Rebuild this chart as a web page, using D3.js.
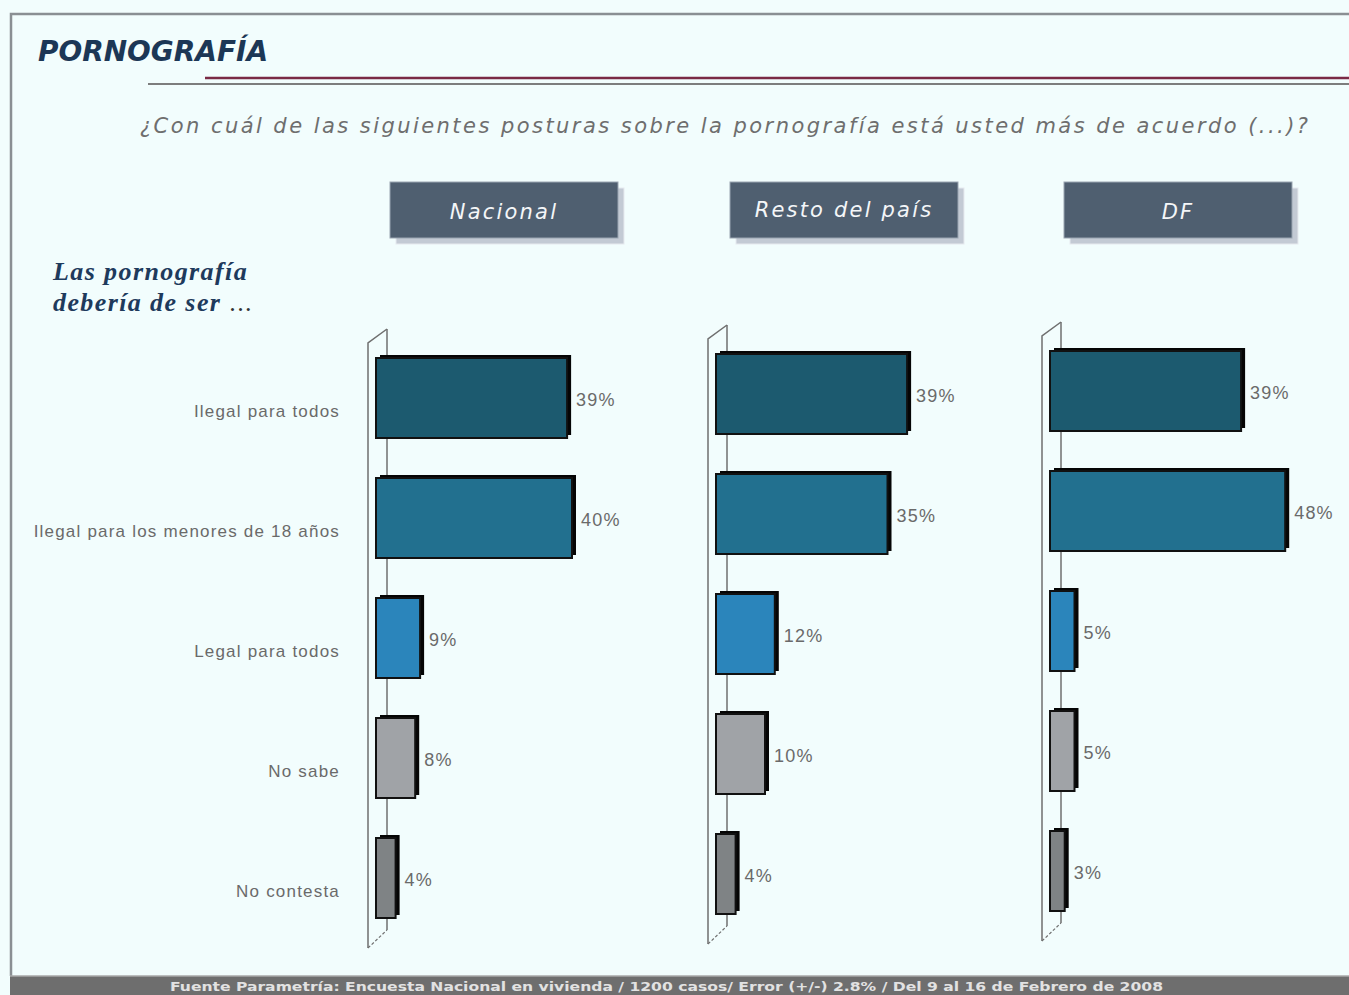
<!DOCTYPE html>
<html>
<head>
<meta charset="utf-8">
<script src="https://cdn.jsdelivr.net/npm/d3@7"></script>
<style>
  body { margin: 0; background: #f2fdfd; overflow: hidden; }
  svg { display: block; }
</style>
</head>
<body>
<svg id="chart" width="1349" height="995"></svg>
<script>
// datos
const categorias = ["Ilegal para todos", "Ilegal para los menores de 18 años", "Legal para todos", "No sabe", "No contesta"];
const regiones = ["Nacional", "Resto del país", "DF"];
const nacional = [39, 40, 9, 8, 4];
const restoPais = [39, 35, 12, 10, 4];
const df = [39, 48, 5, 5, 3];
const colores = ["#1c5a6f", "#22708f", "#2b85bb", "#a0a3a7", "#7f8385"];

const series = [nacional, restoPais, df];

const svg = d3.select("#chart");
const W = 1349, H = 995;

svg.append("rect").attr("width", W).attr("height", H).attr("fill", "#f2fdfd");

// marco
svg.append("path")
  .attr("d", "M11,976 L11,14 L1349,14")
  .attr("fill", "none")
  .attr("stroke", "#8a8f93")
  .attr("stroke-width", 2.5);

// titulo
svg.append("text")
  .attr("x", 38).attr("y", 61)
  .attr("font-family", "DejaVu Sans Condensed, DejaVu Sans")
  .attr("font-style", "italic")
  .attr("font-weight", "bold")
  .attr("font-size", 29)
  .attr("fill", "#1c3756")
  .attr("textLength", 230)
  .attr("lengthAdjust", "spacingAndGlyphs")
  .text("PORNOGRAFÍA");

svg.append("line")
  .attr("x1", 148).attr("x2", W).attr("y1", 84).attr("y2", 84)
  .attr("stroke", "#7d7d7d").attr("stroke-width", 2);
svg.append("line")
  .attr("x1", 205).attr("x2", W).attr("y1", 78).attr("y2", 78)
  .attr("stroke", "#7a2a45").attr("stroke-width", 2.5);

// pregunta
svg.append("text")
  .attr("x", 140).attr("y", 133)
  .attr("font-family", "DejaVu Sans")
  .attr("font-style", "italic")
  .attr("font-size", 21)
  .attr("fill", "#6e6e6e")
  .attr("textLength", 1168)
  .attr("lengthAdjust", "spacing")
  .text("¿Con cuál de las siguientes posturas sobre la pornografía está usted más de acuerdo (...)?");

// "Las pornografía debería de ser ..."
const enc = svg.append("g")
  .attr("font-family", "Liberation Serif")
  .attr("font-style", "italic")
  .attr("font-weight", "bold")
  .attr("font-size", 26)
  .attr("letter-spacing", 1.4)
  .attr("fill", "#1e3a5c");
enc.append("text").attr("x", 53).attr("y", 280)
  .text("Las pornografía");
const l2 = enc.append("text").attr("x", 53).attr("y", 311);
l2.append("tspan").text("debería de ser ");
l2.append("tspan").attr("font-weight", "normal").attr("font-style", "normal").attr("fill", "#333").text("...");

// paneles
const x0s = [376, 716, 1050];
const dys = [0, -4, -7];

const x = d3.scaleLinear().domain([0, 100]).range([0, 490]);

series.forEach(function(valores, p) {
  const x0 = x0s[p];
  const y = d3.scaleBand()
    .domain(categorias)
    .range([338 + dys[p], 938 + dys[p]])
    .paddingInner(1 / 3)
    .paddingOuter(1 / 6);
  const [r0, r1] = y.range();
  const g = svg.append("g");

  // cabecera
  g.append("rect")
    .attr("x", x0 + 20).attr("y", 188)
    .attr("width", 228).attr("height", 56)
    .attr("fill", "#c3cad4").attr("stroke", "#e6eaef");
  g.append("rect")
    .attr("x", x0 + 14).attr("y", 182)
    .attr("width", 228).attr("height", 56)
    .attr("fill", "#4f5f70").attr("stroke", "#9aa5b1").attr("stroke-width", 1);
  g.append("text")
    .attr("x", x0 + 14 + 114).attr("y", 219 - (p == 1 ? 2 : 0))
    .attr("text-anchor", "middle")
    .attr("font-family", "DejaVu Sans")
    .attr("font-style", "italic")
    .attr("font-size", 21)
    .attr("letter-spacing", 2.2)
    .attr("fill", "#f4f6f8")
    .text(regiones[p]);

  // pared del eje
  const xf = x0 - 8, xb = x0 + 11;
  g.append("line")
    .attr("x1", xb).attr("x2", xb).attr("y1", r0 - 9).attr("y2", r1 - 8)
    .attr("stroke", "#6f6f6f").attr("stroke-width", 1.5);
  g.append("path")
    .attr("d", `M${xb},${r0 - 9} L${xf},${r0 + 5} L${xf},${r1 + 10}`)
    .attr("fill", "none").attr("stroke", "#6f6f6f").attr("stroke-width", 1.5);
  g.append("line")
    .attr("x1", xf).attr("x2", xb).attr("y1", r1 + 10).attr("y2", r1 - 8)
    .attr("stroke", "#6f6f6f").attr("stroke-width", 1.2)
    .attr("stroke-dasharray", "3,2");

  // barras
  const barras = g.selectAll(".barra")
    .data(valores)
    .join("g")
    .attr("class", "barra");

  barras.append("rect")
    .attr("x", x0 + 4)
    .attr("y", (d, i) => y(categorias[i]) - 3)
    .attr("width", d => x(d))
    .attr("height", y.bandwidth())
    .attr("fill", "#050505");

  barras.append("rect")
    .attr("x", x0)
    .attr("y", (d, i) => y(categorias[i]))
    .attr("width", d => x(d))
    .attr("height", y.bandwidth())
    .attr("fill", (d, i) => colores[i])
    .attr("stroke", "#111")
    .attr("stroke-width", 2);

  barras.append("text")
    .attr("x", d => x0 + x(d) + 9)
    .attr("y", (d, i) => y(categorias[i]) + y.bandwidth() / 2 + 2)
    .attr("dy", "0.35em")
    .attr("font-family", "Liberation Sans")
    .attr("font-size", 18)
    .attr("letter-spacing", 1.2)
    .attr("fill", "#6a6a6a")
    .text(d => d + "%");

  // categorias (solo a la izquierda del primer panel)
  if (p == 0) {
    g.selectAll(".cat")
      .data(categorias)
      .join("text")
      .attr("class", "cat")
      .attr("x", 340)
      .attr("y", d => y(d) + y.bandwidth() / 2 + 13)
      .attr("dy", "0.35em")
      .attr("text-anchor", "end")
      .attr("font-family", "Liberation Sans")
      .attr("font-size", 17)
      .attr("letter-spacing", 1.2)
      .attr("fill", "#6a6a6a")
      .text(d => d);
  }
});

// pie
svg.append("rect")
  .attr("x", 10).attr("y", 976)
  .attr("width", W - 10).attr("height", 19)
  .attr("fill", "#6e6e6e");
svg.append("line")
  .attr("x1", 10).attr("x2", W).attr("y1", 976).attr("y2", 976)
  .attr("stroke", "#a8a8a8").attr("stroke-width", 1.5);
svg.append("text")
  .attr("x", 170).attr("y", 991)
  .attr("font-family", "DejaVu Sans Condensed, DejaVu Sans")
  .attr("font-weight", "bold")
  .attr("font-size", 13)
  .attr("fill", "#e2e2e2")
  .attr("textLength", 993)
  .attr("lengthAdjust", "spacingAndGlyphs")
  .text("Fuente Parametría: Encuesta Nacional en vivienda / 1200 casos/ Error (+/-) 2.8% / Del 9 al 16 de Febrero de 2008");
</script>
</body>
</html>
